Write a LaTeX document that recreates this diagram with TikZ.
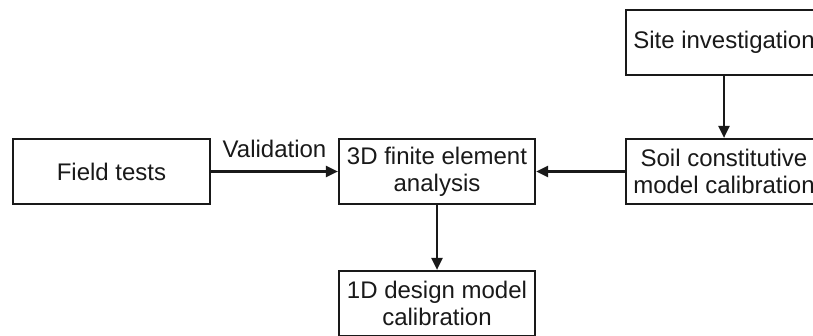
\documentclass[tikz,border=0pt]{standalone}
\usepackage{fontspec}
\setmainfont{Liberation Sans}
\usetikzlibrary{arrows.meta}
\definecolor{ink}{gray}{0.1}
\tikzset{
  boxnode/.style={draw=ink, text=ink, line width=2.2pt, rectangle, minimum width=196pt, minimum height=65pt, inner sep=0pt, align=center, font=\fontsize{24}{27}\selectfont},
  arr/.style={draw=ink, line width=2.2pt, -{Triangle[length=12pt,width=11pt]}}
}
\begin{document}
\begin{tikzpicture}[x=1pt,y=-1pt]
\useasboundingbox (0,0) rectangle (813,335);
\clip (0,0) rectangle (813,335);
\fill[white] (0,0) rectangle (813,335);
\node[boxnode, minimum width=197pt] (field) at (111.5,171.5) {Field tests};
\node[boxnode] (fe) at (437,171.5) {3D finite element\\analysis};
\node[boxnode] (soil) at (724,171.5) {Soil constitutive\\model calibration};
\node[boxnode] (site) at (724,42.5) {Site investigation};
\node[boxnode] (oned) at (437,303.5) {1D design model\\calibration};
\draw[arr] (field) -- (fe) node[midway, anchor=base, yshift=14pt, text=ink, font=\fontsize{24}{27}\selectfont] {Validation};
\draw[arr] (soil) -- (fe);
\draw[arr] (site) -- (soil);
\draw[arr] (fe) -- (oned);
\end{tikzpicture}
\end{document}
